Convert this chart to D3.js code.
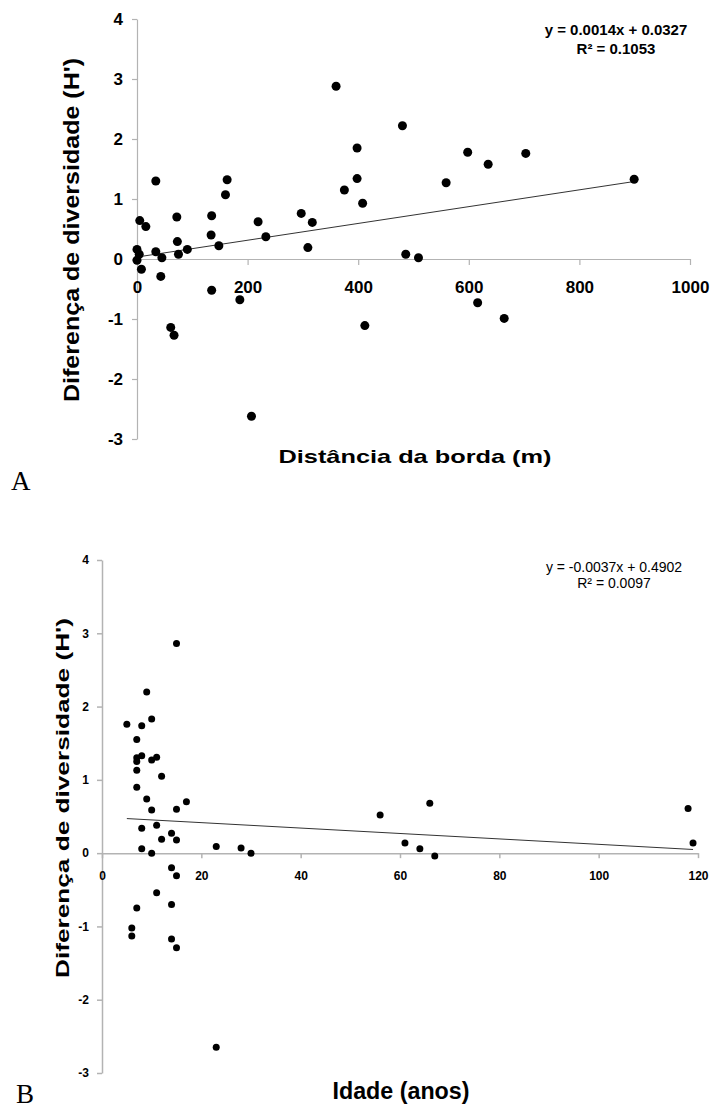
<!DOCTYPE html>
<html><head><meta charset="utf-8">
<script src="https://cdn.jsdelivr.net/npm/d3@7"></script>
<style>
body{margin:0;background:#fff;}
svg{display:block;}
</style></head>
<body>
<svg id="chart" width="724" height="1108"></svg>
<script>
// Chart A: distance from edge (m) vs diversity difference (H')
const distA = [360,480,398,398,375,408,34,163,160,72,135,297,317,219,5,16,598,635,703,559,899,
  0,4,0,8,34,45,43,73,75,91,134,148,233,309,486,509,135,186,61,67,412,207,616,664];
const divA = [2.88,2.22,1.85,1.34,1.15,0.93,1.30,1.32,1.07,0.70,0.72,0.76,0.61,0.62,0.64,0.54,1.78,1.58,1.76,1.27,1.33,
  0.16,0.08,-0.02,-0.17,0.12,0.02,-0.29,0.29,0.08,0.16,0.40,0.22,0.37,0.19,0.08,0.02,-0.52,-0.68,-1.14,-1.27,-1.11,-2.62,-0.73,-0.99];
// Chart B: age (years) vs diversity difference (H')
const ageB = [15,9,10,5,8,7,7,8,7,10,11,7,12,7,9,17,
  10,15,8,11,14,12,15,8,10,23,28,30,14,15,11,7,14,6,6,14,15,23,
  56,66,61,64,67,118,119];
const divB = [2.86,2.20,1.83,1.76,1.74,1.55,1.30,1.33,1.25,1.27,1.31,1.13,1.05,0.90,0.74,0.70,
  0.59,0.60,0.34,0.38,0.27,0.19,0.18,0.06,0.00,0.09,0.07,0.00,-0.20,-0.31,-0.54,-0.75,-0.70,-1.02,-1.13,-1.17,-1.29,-2.65,
  0.52,0.68,0.14,0.06,-0.04,0.61,0.14];
const ticksYA = [-3,-2,-1,0,1,2,3,4];
const ticksXA = [0,200,400,600,800,1000];
const ticksYB = [-3,-2,-1,0,1,2,3,4];
const ticksXB = [0,20,40,60,80,100,120];
const fitA = {slope:0.0014, intercept:0.0327, x0:0, x1:899, eq:"y = 0.0014x + 0.0327", r2:"R² = 0.1053"};
const fitB = {slope:-0.0037, intercept:0.4902, x0:5, x1:119, eq:"y = -0.0037x + 0.4902", r2:"R² = 0.0097"};

const svg = d3.select("#chart");
const axisColor = "#b3b3b3";
const SANS = "'Liberation Sans', Arial, sans-serif";
const SERIF = "'Liberation Serif', 'Times New Roman', serif";

function panel(cfg){
  const g = svg.append("g");
  const x = d3.scaleLinear().domain(cfg.xDomain).range(cfg.xRange);
  const y = d3.scaleLinear().domain(cfg.yDomain).range(cfg.yRange);
  const fmt = d => String(d);
  const ya = g.append("g").attr("transform",`translate(${x(0)},0)`)
    .call(d3.axisLeft(y).tickValues(cfg.yTicks).tickSize(5).tickPadding(cfg.yPad).tickSizeOuter(0).tickFormat(fmt));
  const xa = g.append("g").attr("transform",`translate(0,${y(0)})`)
    .call(d3.axisBottom(x).tickValues(cfg.xTicks).tickSize(cfg.xTick).tickPadding(cfg.xPad).tickSizeOuter(0).tickFormat(fmt));
  [ya,xa].forEach(a=>{
    a.selectAll("path,line").attr("stroke",axisColor).attr("stroke-width",cfg.axisW);
    a.selectAll("text").attr("fill","#000").style("font-size",cfg.tickFont+"px").style("font-weight","bold")
      .style("font-family",SANS);
  });
  g.append("line")
    .attr("x1",x(cfg.fit.x0)).attr("y1",y(cfg.fit.slope*cfg.fit.x0+cfg.fit.intercept))
    .attr("x2",x(cfg.fit.x1)).attr("y2",y(cfg.fit.slope*cfg.fit.x1+cfg.fit.intercept))
    .attr("stroke","#333").attr("stroke-width",1);
  g.selectAll("circle.pt").data(cfg.xs).enter().append("circle")
    .attr("cx",(d)=>x(d)).attr("cy",(d,i)=>y(cfg.ys[i])).attr("r",cfg.r).attr("fill","#000");
  [cfg.fit.eq, cfg.fit.r2].forEach((t,i)=>{
    g.append("text").attr("x",cfg.eqX).attr("y",cfg.eqY+i*cfg.eqGap).attr("text-anchor","middle")
      .style("font-family",SANS).style("font-size",cfg.eqFont+"px").style("font-weight",cfg.eqWeight).text(t);
  });
  g.append("text").attr("transform",`translate(${cfg.yTitleX},${cfg.yTitleY}) rotate(-90)`)
    .attr("text-anchor","middle").attr("textLength",cfg.yTitleLen).attr("lengthAdjust","spacingAndGlyphs")
    .style("font-family",SANS).style("font-size",cfg.yTitleFont+"px").style("font-weight","bold").text(cfg.yTitle);
  g.append("text").attr("x",cfg.xTitleX).attr("y",cfg.xTitleY)
    .attr("text-anchor","middle").attr("textLength",cfg.xTitleLen).attr("lengthAdjust","spacingAndGlyphs")
    .style("font-family",SANS).style("font-size",cfg.xTitleFont+"px").style("font-weight","bold").text(cfg.xTitle);
  g.append("text").attr("x",cfg.letterX).attr("y",cfg.letterY)
    .style("font-family",SERIF).style("font-size","27px").text(cfg.letter);
}

panel({xDomain:[0,1000], xRange:[137,690], yDomain:[-3,4], yRange:[439,19],
  yTicks:ticksYA, xTicks:ticksXA, yPad:9, xTick:6, xPad:16, axisW:1.2, tickFont:17,
  xs:distA, ys:divA, r:4.5, fit:fitA, eqX:616, eqY:35, eqGap:19, eqFont:15, eqWeight:"bold",
  yTitle:"Diferença de diversidade (H')", yTitleX:79, yTitleY:230, yTitleFont:22, yTitleLen:344,
  xTitle:"Distância da borda (m)", xTitleX:415, xTitleY:463, xTitleFont:19, xTitleLen:273,
  letter:"A", letterX:11, letterY:490});

panel({xDomain:[0,120], xRange:[102,698], yDomain:[-3,4], yRange:[1073,560],
  yTicks:ticksYB, xTicks:ticksXB, yPad:8, xTick:5, xPad:13, axisW:1.5, tickFont:12,
  xs:ageB, ys:divB, r:3.5, fit:fitB, eqX:614, eqY:572, eqGap:16, eqFont:14, eqWeight:"normal",
  yTitle:"Diferença de diversidade (H')", yTitleX:69, yTitleY:798, yTitleFont:18, yTitleLen:360,
  xTitle:"Idade (anos)", xTitleX:401, xTitleY:1099, xTitleFont:23, xTitleLen:137,
  letter:"B", letterX:16, letterY:1103});
</script>
</body></html>
